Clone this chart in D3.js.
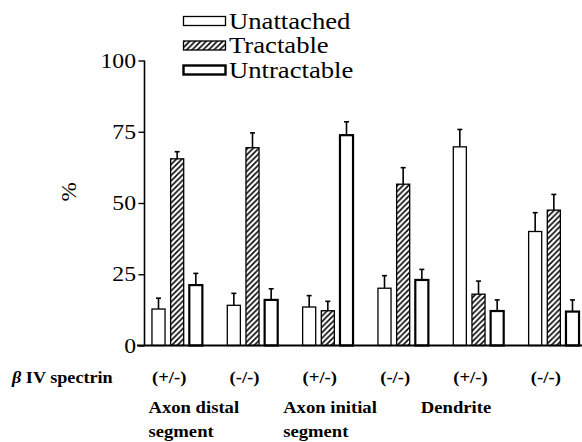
<!DOCTYPE html>
<html><head><meta charset="utf-8">
<script src="https://cdn.jsdelivr.net/npm/d3@7/dist/d3.min.js"></script>
<style>body{margin:0;background:#fff}svg{display:block}</style>
</head><body><svg id="c" width="582" height="442"></svg>
<script>
const groups = ["ADS +/-","ADS -/-","AIS +/-","AIS -/-","Den +/-","Den -/-"];
const genotypeLabels = ["(+/-)","(-/-)","(+/-)","(-/-)","(+/-)","(-/-)"];
const regionLabels = [["Axon distal","segment"],["Axon initial","segment"],["Dendrite"]];
const series = ["Unattached","Tractable","Untractable"];
const unattached = [12.8, 14.1, 13.5, 20.1, 69.7, 40.0];
const unattachedErr = [3.8, 4.2, 4.0, 4.4, 6.1, 6.6];
const tractable = [65.5, 69.4, 12.2, 56.6, 18.0, 47.5];
const tractableErr = [2.5, 5.2, 3.3, 5.8, 4.6, 5.5];
const untractable = [21.2, 16.0, 73.8, 23.0, 12.1, 11.9];
const untractableErr = [4.1, 3.9, 4.7, 3.7, 3.9, 4.1];
const yTicks = [0, 25, 50, 75, 100];

const FONT = "'Liberation Serif', 'Times New Roman', serif";
const values = [unattached, tractable, untractable];
const errs = [unattachedErr, tractableErr, untractableErr];
const SX = 1.13;
const svg = d3.select("#c");
const defs = svg.append("defs");
const pat = defs.append("pattern").attr("id","hatch").attr("patternUnits","userSpaceOnUse")
  .attr("width",5.5).attr("height",5.5);
pat.append("rect").attr("width",5.5).attr("height",5.5).attr("fill","#fff");
pat.append("path").attr("d","M-1,1 L1,-1 M0,5.5 L5.5,0 M4.5,6.5 L6.5,4.5").attr("stroke","#000").attr("stroke-width",1.5);

const y = d3.scaleLinear().domain([0,100]).range([345.5,60.5]);
const x0 = d3.scaleBand().domain(groups).range([139.5,591.5]).padding(0);
const x1 = d3.scaleBand().domain(series).range([0,50.4]).paddingInner(0.3).paddingOuter(0);
const fills = ["#fff","url(#hatch)","#fff"];
const strokes = [1.3,1.3,2.2];

series.forEach((s,si)=>{
  const g = svg.append("g");
  groups.forEach((gr,gi)=>{
    const cx = x0(gr)+x0.bandwidth()/2 - 25.2 + x1(s);
    const v = values[si][gi], e = errs[si][gi];
    const bw = x1.bandwidth();
    g.append("line").attr("x1",cx+bw/2).attr("x2",cx+bw/2).attr("y1",y(v)).attr("y2",y(v+e)).attr("stroke","#000").attr("stroke-width",1.6);
    g.append("line").attr("x1",cx+bw/2-2.5).attr("x2",cx+bw/2+2.5).attr("y1",y(v+e)).attr("y2",y(v+e)).attr("stroke","#000").attr("stroke-width",1.6);
    g.append("rect").attr("x",cx).attr("y",y(v)).attr("width",bw).attr("height",y(0)-y(v))
      .attr("fill",fills[si]).attr("stroke","#000").attr("stroke-width",strokes[si]);
  });
});

const ya = svg.append("g").attr("transform","translate(144.5,0)")
  .call(d3.axisLeft(y).tickValues(yTicks).tickSize(6).tickPadding(3).tickFormat(d3.format("d")));
ya.attr("font-family",null).attr("font-size",null);
ya.select(".domain").attr("stroke-width",1.6).attr("d","M0,60.5V345.5");
ya.selectAll(".tick line").attr("stroke-width",1.4);
ya.selectAll("text").style("font-family",FONT).attr("font-size",21).attr("transform",`scale(${SX},1)`).attr("x",-8.5/SX);
svg.append("line").attr("x1",137).attr("x2",582).attr("y1",y(0)).attr("y2",y(0)).attr("stroke","#000").attr("stroke-width",1.8);

svg.append("text").style("font-family",FONT).attr("transform","translate(76,192) rotate(-90) scale(1.1,1)").attr("text-anchor","middle").attr("font-size",21).text("%");

const lg = svg.append("g");
series.forEach((s,si)=>{
  const ly = 21 + si*24.5;
  lg.append("rect").attr("x",183.5).attr("y",ly-4.5).attr("width",42).attr("height",9)
    .attr("fill",fills[si]).attr("stroke","#000").attr("stroke-width",si===2?2.4:1.3);
  lg.append("text").style("font-family",FONT).attr("transform",`translate(229,${ly+7.5}) scale(1.16,1)`).attr("font-size",23).text(s);
});

const bold = (sel)=>sel.style("font-family",FONT).attr("font-weight","bold").attr("font-size",16.5);
bold(svg.append("text").attr("transform",`translate(12,383) scale(1.1,1)`))
  .call(t=>{t.append("tspan").attr("font-style","italic").text("β");t.append("tspan").text(" IV spectrin");});
groups.forEach((gr,gi)=>{
  bold(svg.append("text").attr("transform",`translate(${x0(gr)+x0.bandwidth()/2-8},383) scale(${SX},1)`).attr("text-anchor","middle").text(genotypeLabels[gi]));
});
const regionX = [x0(groups[0])+9, x0(groups[2])-7, x0(groups[4])-20];
regionLabels.forEach((lines,ri)=>{
  lines.forEach((ln,li)=>{
    bold(svg.append("text").attr("transform",`translate(${regionX[ri]},${413+li*24}) scale(${SX},1)`).text(ln));
  });
});
</script></body></html>
